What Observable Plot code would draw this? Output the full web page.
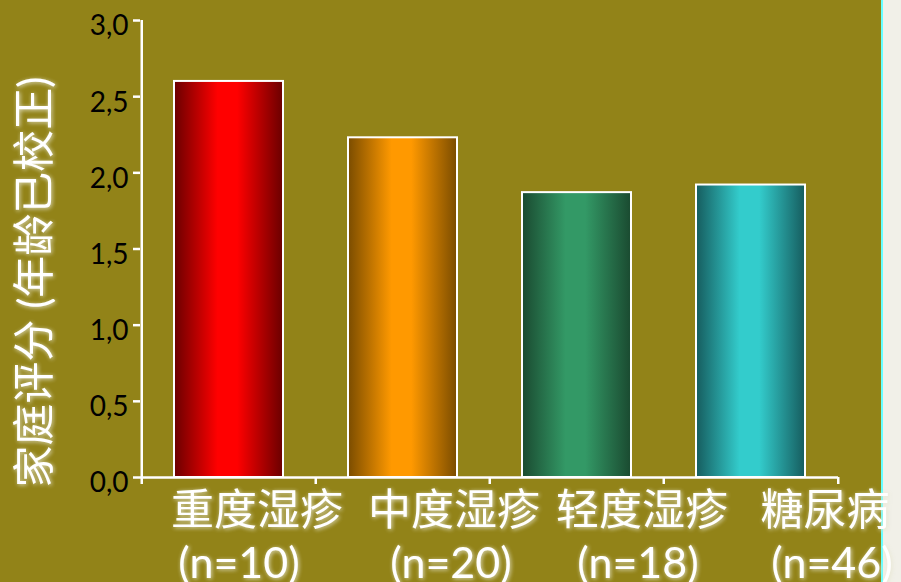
<!DOCTYPE html>
<html>
<head>
<meta charset="utf-8">
<script src="https://cdn.jsdelivr.net/npm/d3@7"></script>
<script src="https://cdn.jsdelivr.net/npm/@observablehq/plot@0.6"></script>
<style>
  html, body { margin: 0; padding: 0; }
  body { width: 901px; height: 582px; background: #928318; position: relative; overflow: hidden; }
  #strip { position: absolute; left: 881px; top: 0; width: 20px; height: 582px; background: #f1f0e8; border-left: 2px solid #66ffff; box-sizing: border-box; z-index: 0; }
  #chart { position: absolute; left: 0; top: 0; z-index: 1; }
  #chart svg { overflow: visible; }
</style>
</head>
<body>
<div id="strip"></div>
<div id="chart"></div>
<script>
// ---- data ----
const categories = ["重度湿疹", "中度湿疹", "轻度湿疹", "糖尿病"];
const nLabels = ["(n=10)", "(n=20)", "(n=18)", "(n=46)"];
const scores = [2.60, 2.23, 1.87, 1.92];
const yTicks = [0, 0.5, 1.0, 1.5, 2.0, 2.5, 3.0];
const yLabel = "家庭评分 (年龄已校正)";

// ---- style ----
const gradients = [
  ["#6a0000", "#ff0000", "#6a0000"],
  ["#7a4c00", "#ff9900", "#7a4c00"],
  ["#1a4a30", "#339966", "#1a4a30"],
  ["#165c5e", "#33cccc", "#165c5e"]
];
const W = 901, H = 582, mL = 140, mR = 63, mT = 20, mB = 105;
const padIn = 0.375, padOut = 0.1875;
const step = (W - mL - mR) / (categories.length - padIn + 2 * padOut);
const line1Dx = [28, 51, 65, 74];
const line2Dx = [10, 48, 61, 81];
const tickDrop = 7 / ((H - mT - mB) / 3);

const bars = categories.map((c, i) => ({cat: c, score: scores[i], i}));
const fmt = d => d.toFixed(1).replace(".", ",");
const latin = "Lato, 'Noto Sans CJK SC', sans-serif";

const labelMarks = [];
categories.forEach((c, i) => {
  labelMarks.push(Plot.text([c], {x: d => d, y: 0, dx: line1Dx[i], dy: 34, text: d => d,
    fill: "white", fontSize: 43, fontFamily: latin}));
  labelMarks.push(Plot.text([nLabels[i]], {x: () => c, y: 0, dx: line2Dx[i], dy: 87, text: d => d,
    fill: "white", fontSize: 43, fontFamily: latin, letterSpacing: 3}));
});

const svg = Plot.plot({
  width: W, height: H,
  marginLeft: mL, marginRight: mR, marginTop: mT, marginBottom: mB,
  style: {background: "transparent", overflow: "visible"},
  x: {domain: categories, paddingInner: padIn, paddingOuter: padOut, axis: null},
  y: {domain: [0, 3], axis: null},
  color: {type: "identity"},
  marks: [
    Plot.barY(bars, {x: "cat", y: "score", fill: d => `url(#grad${d.i})`, stroke: "white", strokeWidth: 2}),
    Plot.ruleY([0], {stroke: "white", strokeWidth: 2.5}),
    Plot.ruleX(categories, {x: d => d, dx: -step / 2, y1: (d, i) => i === 0 ? 3 : 0, y2: -tickDrop, stroke: "white", strokeWidth: 2.5}),
    Plot.ruleX([categories[categories.length - 1]], {x: d => d, dx: step / 2, y1: 0, y2: -tickDrop, stroke: "white", strokeWidth: 2.5}),
    Plot.axisY({ticks: yTicks, tickSize: 7, tickFormat: () => "", label: null, stroke: "white", strokeWidth: 2.5}),
    Plot.text(yTicks, {y: d => d, frameAnchor: "left", dx: -12, dy: 6, textAnchor: "end", text: fmt,
      fill: "black", fontSize: 28, fontFamily: latin, letterSpacing: 1}),
    Plot.text([yLabel], {frameAnchor: "left", dx: -105, dy: 33, rotate: -90, textAnchor: "middle", text: d => d,
      fill: "white", fontSize: 42, fontFamily: latin}),
    ...labelMarks
  ]
});

const s = d3.select(svg);
const defs = s.insert("defs", ":first-child");
gradients.forEach((g, i) => {
  const lg = defs.append("linearGradient").attr("id", `grad${i}`).attr("x1", "0%").attr("x2", "100%").attr("y1", "0%").attr("y2", "0%");
  lg.append("stop").attr("offset", "0%").attr("stop-color", g[0]);
  lg.append("stop").attr("offset", "40%").attr("stop-color", g[1]);
  lg.append("stop").attr("offset", "58%").attr("stop-color", g[1]);
  lg.append("stop").attr("offset", "100%").attr("stop-color", g[2]);
});
s.selectAll('g[fill="white"]').style("filter", "drop-shadow(1.5px 1.5px 2px rgba(230,228,205,0.9))");

document.getElementById("chart").appendChild(svg);
</script>
</body>
</html>
